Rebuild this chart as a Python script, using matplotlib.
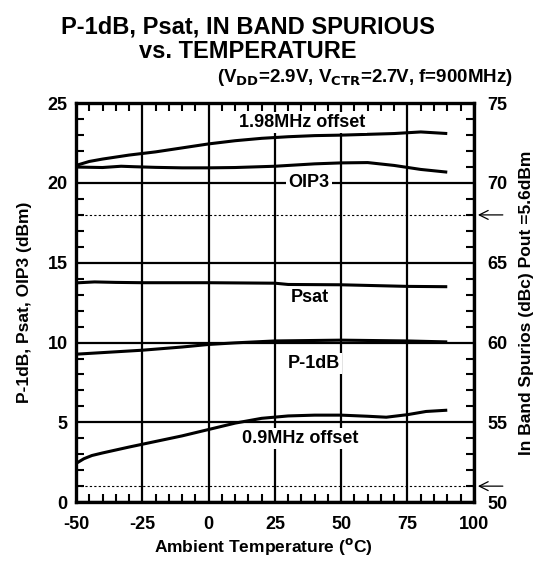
import matplotlib
matplotlib.use("Agg")
import matplotlib.pyplot as plt
from matplotlib.ticker import MultipleLocator

plt.rcParams['font.family'] = ['Liberation Sans', 'DejaVu Sans']
plt.rcParams['font.weight'] = 'bold'
plt.rcParams['axes.unicode_minus'] = False

# data (left axis units, dBm; right axis = left + 50)
temp_198 = [-50, -45, -40, -30, -20, -10, 0, 10, 20, 30, 40, 50, 60, 70, 80, 90]
spur_198 = [21.1, 21.35, 21.5, 21.75, 21.95, 22.2, 22.45, 22.65, 22.8, 22.9, 22.97, 23.0, 23.05, 23.1, 23.2, 23.1]

temp_oip3 = [-50, -40, -33, -28, -20, -10, 0, 10, 25, 40, 50, 60, 70, 80, 90]
oip3 = [21.0, 20.97, 21.05, 21.02, 20.98, 20.95, 20.95, 20.97, 21.05, 21.2, 21.26, 21.28, 21.1, 20.85, 20.68]

temp_psat = [-50, -43, -35, -25, 0, 25, 30, 50, 75, 90]
psat = [13.74, 13.8, 13.77, 13.75, 13.75, 13.72, 13.64, 13.62, 13.52, 13.5]

temp_p1db = [-50, -40, -25, -10, 0, 10, 25, 50, 75, 90]
p1db = [9.27, 9.37, 9.52, 9.72, 9.88, 9.98, 10.1, 10.15, 10.1, 10.04]

temp_09 = [-50, -47, -44, -40, -30, -20, -10, 0, 10, 20, 30, 40, 50, 60, 67, 75, 82, 90]
spur_09 = [2.42, 2.72, 2.92, 3.08, 3.45, 3.8, 4.15, 4.55, 4.95, 5.25, 5.4, 5.45, 5.45, 5.38, 5.32, 5.48, 5.68, 5.76]

ref_levels = [18, 1]

fig = plt.figure(figsize=(5.39, 5.61), dpi=100)
ax = fig.add_axes([0.141, 0.105, 0.738, 0.711])
ax2 = ax.twinx()

for x, y in [(temp_198, spur_198), (temp_oip3, oip3), (temp_psat, psat),
             (temp_p1db, p1db), (temp_09, spur_09)]:
    ax.plot(x, y, color='black', lw=2.2, zorder=3, solid_capstyle='butt')

for lv in ref_levels:
    ax.axhline(lv, color='black', lw=0.8, ls=(0, (2, 2)), zorder=2)
    ax.annotate('', xy=(100.5, lv), xytext=(112, lv), xycoords='data',
                arrowprops=dict(arrowstyle='->', color='black', lw=0.9,
                                mutation_scale=16), annotation_clip=False)

ax.set_xlim(-50, 100)
ax.set_ylim(0, 25)
ax.xaxis.set_major_locator(MultipleLocator(25))
ax.xaxis.set_minor_locator(MultipleLocator(5))
ax.yaxis.set_major_locator(MultipleLocator(5))
ax.yaxis.set_minor_locator(MultipleLocator(1))
ax.grid(True, which='major', color='black', lw=1.6, zorder=1)
ax.xaxis.set_tick_params(which='minor', direction='in', length=6, width=1.5,
                         bottom=True, top=True)
ax.yaxis.set_tick_params(which='minor', direction='in', length=6, width=1.5,
                         left=True)
ax.xaxis.set_tick_params(which='major', length=0, pad=10, labelsize=13)
ax.yaxis.set_tick_params(which='major', length=0, pad=6, labelsize=13)
for lab in ax.get_xticklabels() + ax.get_yticklabels():
    lab.set_fontweight('bold')
for s in ax.spines.values():
    s.set_linewidth(2.4)
    s.set_zorder(5)

ax2.set_ylim(50, 75)
ax2.yaxis.set_major_locator(MultipleLocator(5))
ax2.yaxis.set_minor_locator(MultipleLocator(1))
ax2.yaxis.set_tick_params(which='minor', direction='in', length=6, width=1.5, right=True)
ax2.yaxis.set_tick_params(which='major', length=0, labelsize=13, pad=10)
for lab in ax2.get_yticklabels():
    lab.set_fontweight('bold')
ax2.set_ylabel('In Band Spurios (dBc) Pout =5.6dBm', fontsize=12.5, fontweight='bold', labelpad=8)

ax.set_xlabel('Ambient Temperature ($\\mathbf{^o}$C)', fontsize=12.5, fontweight='bold')
ax.xaxis.set_label_coords(0.47, -0.085)
ax.set_ylabel('P-1dB, Psat, OIP3 (dBm)', fontsize=12.5, fontweight='bold')
ax.yaxis.set_label_coords(-0.11, 0.5)

box = dict(facecolor='white', edgecolor='none', pad=1.5)
ax.text(35.2, 23.8, '1.98MHz offset', ha='center', va='center', fontsize=13, bbox=box, zorder=4)
ax.text(37.8, 20.0, 'OIP3', ha='center', va='center', fontsize=13, bbox=box, zorder=4)
ax.text(38.2, 12.8, 'Psat', ha='center', va='center', fontsize=13, bbox=box, zorder=4)
ax.text(39.7, 8.7, 'P-1dB', ha='center', va='center', fontsize=13, bbox=box, zorder=4)
ax.text(34.4, 4.0, '0.9MHz offset', ha='center', va='center', fontsize=13, bbox=box, zorder=4)

fig.text(0.46, 0.972, 'P-1dB, Psat, IN BAND SPURIOUS\nvs. TEMPERATURE', ha='center', va='top',
         fontsize=17, fontweight='bold', linespacing=1.05)
fig.text(0.952, 0.862, '(V$_{\\mathbf{DD}}$=2.9V, V$_{\\mathbf{CTR}}$=2.7V, f=900MHz)', ha='right',
         va='center', fontsize=13.5, fontweight='bold')

fig.savefig('out.png', dpi=100)
